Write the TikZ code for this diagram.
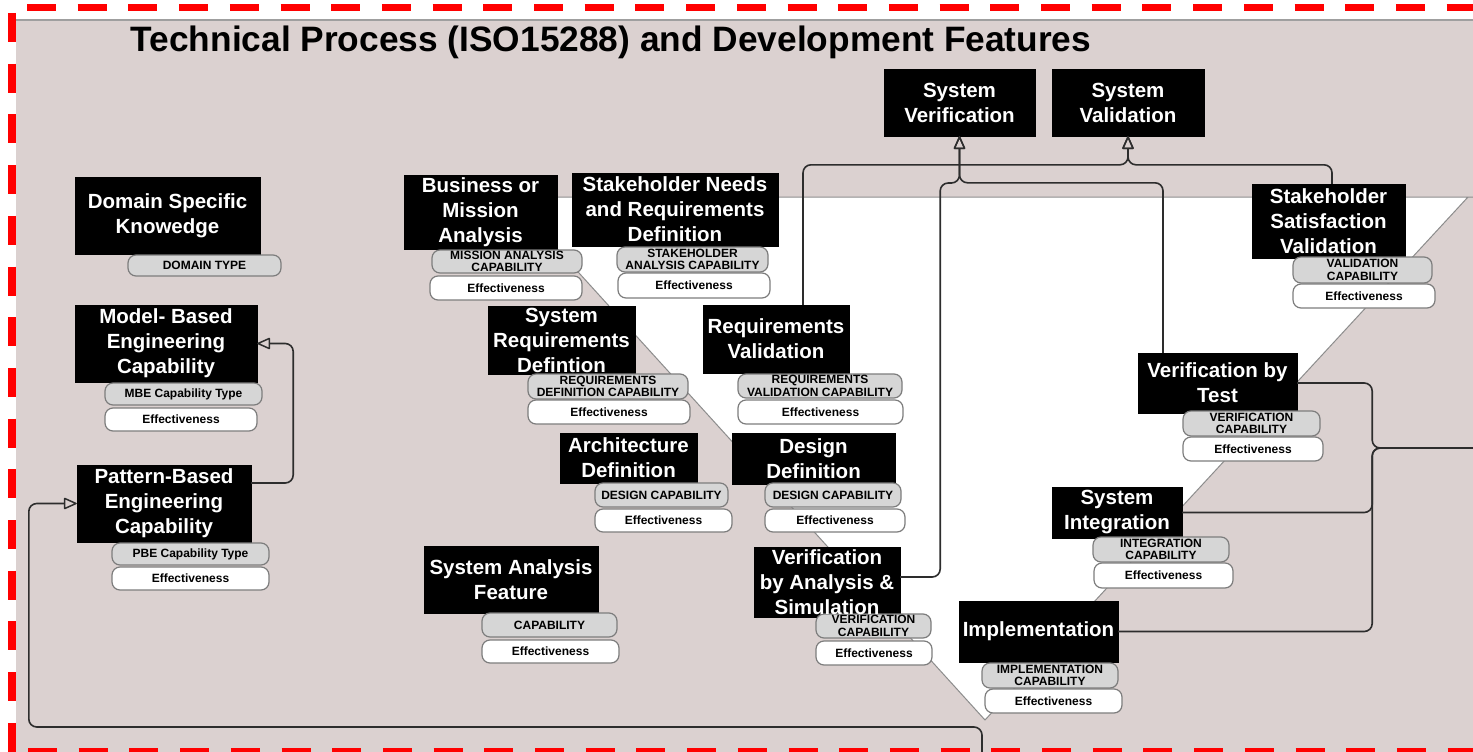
\documentclass[tikz,border=0pt]{standalone}
\usepackage{fontspec}
\setmainfont{Liberation Sans}
\usetikzlibrary{arrows.meta}

\definecolor{bgpink}{RGB}{219,209,208}
\definecolor{pillfill}{RGB}{214,214,214}
\definecolor{pillline}{RGB}{125,125,125}
\definecolor{vline}{RGB}{140,140,140}
\definecolor{linkcol}{RGB}{45,45,45}
\definecolor{framered}{RGB}{255,0,0}

\tikzset{
  procbox/.style={fill=black, draw=black, inner sep=0pt},
  boxtext/.style={text=white, font=\fontsize{20.5}{25}\selectfont\bfseries, align=center, inner sep=0pt},
  typepill/.style={fill=pillfill, draw=pillline, line width=1.2pt, rounded corners=8pt, inner sep=0pt,
                   align=center, font=\fontsize{12}{12.5}\selectfont\bfseries},
  effpill/.style={typepill, fill=white},
  link/.style={draw=linkcol, line width=1.6pt, rounded corners=8pt},
  gen/.style={link, -{Triangle[open, length=14pt, width=12pt, line width=1.5pt, round=false]}},
}

% process box: name, x1, y1, x2, y2 (y grows downwards)
\newcommand\procbox[5]{%
  \node[procbox, minimum width={(#4-#2)*1pt}, minimum height={(#5-#3)*1pt}]
    (#1) at ({(#2+#4)/2},{(#3+#5)/2}) {};}
% white caption centred on a process box
\newcommand\boxlabel[2]{\node[boxtext] (#1-t) at (#1.center) {#2};}
% attribute pill: style, name, x1, y1, x2, y2, text
\newcommand\attrpill[7]{%
  \node[#1, minimum width={(#5-#3)*1pt}, minimum height={(#6-#4)*1pt}]
    (#2) at ({(#3+#5)/2},{(#4+#6)/2}) {#7};}

\begin{document}
\begin{tikzpicture}[x=1pt,y=-1pt]
\useasboundingbox (0,0) rectangle (1473,752);

% sheet and backdrop
\fill[white] (0,0) rectangle (1473,752);
\fill[bgpink] (16,20) rectangle (1473,752);
\draw[gray!75, line width=1.5pt] (16,20) -- (1473,20);

% the V of the technical processes
\fill[white] (510,197) -- (1468,197) -- (985,720) -- cycle;
\draw[vline, line width=1pt] (1473,197) -- (510,197) -- (985,720) -- (1468,197);

% process boxes
\procbox{dsk}{75}{177}{260}{254}
\procbox{mbe}{75}{305}{257}{382}
\procbox{pbe}{77}{465}{251}{542}
\procbox{bma}{404}{175}{557}{249}
\procbox{snr}{572}{173}{778}{246}
\procbox{srd}{488}{306}{635}{374}
\procbox{rqv}{703}{305}{849}{373}
\procbox{arc}{560}{433}{697}{483}
\procbox{dsd}{732}{433}{895}{484}
\procbox{saf}{424}{546}{598}{613}
\procbox{vas}{754}{547}{900}{617}
\procbox{sver}{884}{69}{1035}{136}
\procbox{sval}{1052}{69}{1204}{136}
\procbox{ssv}{1252}{184}{1405}{258}
\procbox{vbt}{1138}{353}{1297}{413}
\procbox{sin}{1052}{487}{1182}{538}
\procbox{imp}{959}{601}{1118}{662}

% free ends of the connectors leaving the sheet
\coordinate (bottomin) at (982,752);
\coordinate (rightout) at (1473,448);

% generalisation connectors
\draw[gen] ([yshift=20.5pt]pbe.east) -- ++(42,0) |- (mbe.east);
\draw[gen] (bottomin) -- ++(0,-25) -| ([xshift=-48pt]pbe.west) -- (pbe.west);
\draw[gen] ([yshift=5pt]vas.east) -- ++(40,0) -- ++(0,-394) -| (sver.south);
\draw[gen] ([xshift=-54.5pt]vbt.north) -- ++(0,-170) -| (sver.south);
\draw[gen] ([xshift=27pt]rqv.north) -- ++(0,-140) -| (sval.south);
\draw[gen] ([xshift=3.5pt]ssv.north) -- ++(0,-19) -| (sval.south);

% connectors merging towards the right edge
\draw[link] (vbt.east) -- ++(75,0) |- (rightout);
\draw[link] (sin.east) -- ++(190,0) |- (rightout);
\draw[link] (imp.east) -- ++(254,0) |- (rightout);

% attribute pills
\attrpill{typepill}{dsk-c}{128}{255}{281}{276}{DOMAIN TYPE}
\attrpill{typepill}{mbe-c}{105}{383}{262}{405}{MBE Capability Type}
\attrpill{effpill}{mbe-e}{105}{408}{257}{431}{Effectiveness}
\attrpill{typepill}{pbe-c}{112}{543}{269}{565}{PBE Capability Type}
\attrpill{effpill}{pbe-e}{112}{567}{269}{590}{Effectiveness}
\attrpill{typepill}{bma-c}{432}{250}{582}{273}{MISSION ANALYSIS\\CAPABILITY}
\attrpill{effpill}{bma-e}{430}{276}{582}{300}{Effectiveness}
\attrpill{typepill}{snr-c}{617}{247}{768}{272}{STAKEHOLDER\\ANALYSIS CAPABILITY}
\attrpill{effpill}{snr-e}{618}{273}{770}{298}{Effectiveness}
\attrpill{typepill}{srd-c}{528}{374}{688}{399}{REQUIREMENTS\\DEFINITION CAPABILITY}
\attrpill{effpill}{srd-e}{528}{400}{690}{424}{Effectiveness}
\attrpill{typepill}{rqv-c}{738}{374}{902}{398}{REQUIREMENTS\\VALIDATION CAPABILITY}
\attrpill{effpill}{rqv-e}{738}{400}{903}{424}{Effectiveness}
\attrpill{typepill}{arc-c}{595}{483}{728}{507}{DESIGN CAPABILITY}
\attrpill{effpill}{arc-e}{595}{509}{732}{532}{Effectiveness}
\attrpill{typepill}{dsd-c}{765}{483}{901}{507}{DESIGN CAPABILITY}
\attrpill{effpill}{dsd-e}{765}{509}{905}{532}{Effectiveness}
\attrpill{typepill}{saf-c}{482}{613}{617}{637}{CAPABILITY}
\attrpill{effpill}{saf-e}{482}{640}{619}{663}{Effectiveness}
\attrpill{typepill}{vas-c}{816}{614}{931}{638}{VERIFICATION\\CAPABILITY}
\attrpill{effpill}{vas-e}{816}{641}{932}{665}{Effectiveness}
\attrpill{typepill}{ssv-c}{1293}{257}{1432}{283}{VALIDATION\\CAPABILITY}
\attrpill{effpill}{ssv-e}{1293}{284}{1435}{308}{Effectiveness}
\attrpill{typepill}{vbt-c}{1183}{411}{1320}{436}{VERIFICATION\\CAPABILITY}
\attrpill{effpill}{vbt-e}{1183}{437}{1323}{461}{Effectiveness}
\attrpill{typepill}{sin-c}{1093}{537}{1229}{562}{INTEGRATION\\CAPABILITY}
\attrpill{effpill}{sin-e}{1094}{563}{1233}{588}{Effectiveness}
\attrpill{typepill}{imp-c}{982}{663}{1118}{688}{IMPLEMENTATION\\CAPABILITY}
\attrpill{effpill}{imp-e}{985}{689}{1122}{713}{Effectiveness}

% box captions
\boxlabel{dsk}{Domain Specific\\Knowedge}
\boxlabel{mbe}{Model- Based\\Engineering\\Capability}
\boxlabel{pbe}{Pattern-Based\\Engineering\\Capability}
\boxlabel{bma}{Business or\\Mission\\Analysis}
\boxlabel{snr}{Stakeholder Needs\\and Requirements\\Definition}
\boxlabel{srd}{System\\Requirements\\Defintion}
\boxlabel{rqv}{Requirements\\Validation}
\boxlabel{arc}{Architecture\\Definition}
\boxlabel{dsd}{Design\\Definition}
\boxlabel{saf}{System Analysis\\Feature}
\boxlabel{vas}{Verification\\by Analysis \&\\Simulation}
\boxlabel{sver}{System\\Verification}
\boxlabel{sval}{System\\Validation}
\boxlabel{ssv}{Stakeholder\\Satisfaction\\Validation}
\boxlabel{vbt}{Verification by\\Test}
\boxlabel{sin}{System\\Integration}
\boxlabel{imp}{Implementation}

% heading
\node[anchor=base, inner sep=0pt, font=\fontsize{35.3}{40}\selectfont\bfseries] (title) at (611,52)
  {Technical Process (ISO15288) and Development Features};

% dashed red frame
\draw[framered, line width=7pt, dash pattern=on 29pt off 21.7pt] (27,7.5) -- (1473,7.5);
\draw[framered, line width=8pt, dash pattern=on 29pt off 21.7pt] (11.5,13) -- (11.5,752);
\draw[framered, line width=7pt, dash pattern=on 29pt off 21.7pt] (28,751.5) -- (1473,751.5);
\end{tikzpicture}
\end{document}
